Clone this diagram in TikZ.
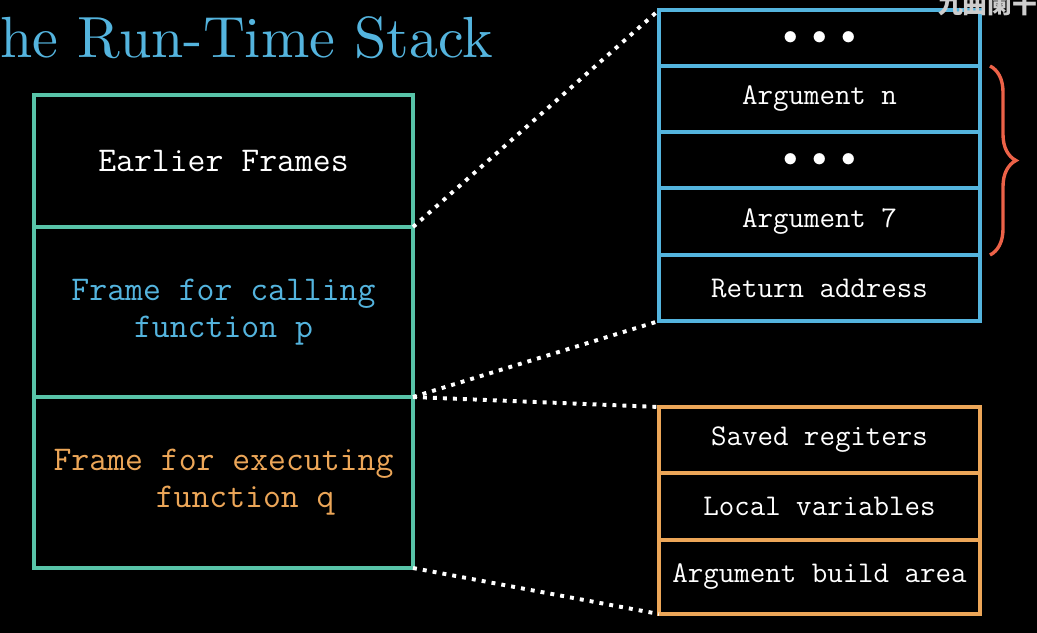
\documentclass[tikz,border=0pt]{standalone}
\usepackage{fontspec}
\newfontfamily\cjk{Noto Sans CJK SC}
\newfontfamily\titlefont{lmroman10-regular.otf}
\usetikzlibrary{positioning,decorations.pathreplacing}
\definecolor{rtTeal}  {RGB}{ 88,196,168}
\definecolor{rtBlue}  {RGB}{ 84,180,222}
\definecolor{rtOrange}{RGB}{236,166, 88}
\definecolor{rtRed}   {RGB}{236, 98, 72}
\definecolor{rtGrey}  {RGB}{205,205,205}

\begin{document}
\begin{tikzpicture}[
    every node/.style={inner sep=0pt,outer sep=0pt},
    cell/.style={rectangle,draw,line width=2.4pt,align=center},
    leftC/.style={cell,draw=rtTeal,minimum width=9.475cm,
                  font=\fontsize{24.7pt}{26.5pt}\selectfont\ttfamily},
    blueC/.style={cell,draw=rtBlue,text=white,minimum width=8.025cm,
                  font=\fontsize{21.4pt}{25pt}\selectfont\ttfamily},
    orangeC/.style={cell,draw=rtOrange,text=white,minimum width=8.025cm,
                  font=\fontsize{21.4pt}{25pt}\selectfont\ttfamily},
    dotsC/.style={blueC,font=\fontsize{20.74pt}{24pt}\selectfont},
    zoomline/.style={white,line width=2.8pt,dash pattern=on 2.8pt off 4.3pt}
  ]
  \useasboundingbox (0,0) rectangle (25.925,-15.825);
  \clip (0,0) rectangle (25.925,-15.825);
  \fill[black] (0,0) rectangle (25.925,-15.825);
  % Title
  \node[text=rtBlue,font=\titlefont\fontsize{41.3pt}{48pt}\selectfont,anchor=base east]
        (title) at (12.33,-1.45) {The Run-Time Stack};
  % Left stack
  \node[leftC,minimum height=3.3cm,anchor=north west,text=white]
        (earlier) at (0.85,-2.375) {Earlier Frames};
  \node[leftC,minimum height=4.25cm,below=0pt of earlier,text=rtBlue]
        (callp) {Frame for calling\\function p};
  \node[leftC,minimum height=4.275cm,below=0pt of callp,text=rtOrange]
        (execq) {Frame for executing\\\hspace*{1.25em}function q};
  % Right top: caller frame detail
  \node[dotsC,minimum height=1.4cm,anchor=north west]
        (topdots) at (16.475,-0.25) {$\bullet\mkern5mu\bullet\mkern5mu\bullet$};
  \node[blueC,minimum height=1.65cm,below=0pt of topdots] (argn) {Argument n};
  \node[dotsC,minimum height=1.4cm,below=0pt of argn]
        (middots) {$\bullet\mkern5mu\bullet\mkern5mu\bullet$};
  \node[blueC,minimum height=1.675cm,below=0pt of middots] (arg7) {Argument 7};
  \node[blueC,minimum height=1.65cm,below=0pt of arg7] (retaddr) {Return address};
  % Right bottom: executing frame detail
  \node[orangeC,minimum height=1.65cm,anchor=north west]
        (saved) at (16.475,-10.175) {Saved regiters};
  \node[orangeC,minimum height=1.675cm,below=0pt of saved] (locals) {Local variables};
  \node[orangeC,minimum height=1.85cm,below=0pt of locals] (argbuild) {Argument build area};
  % Brace
  \draw[rtRed,line width=2.4pt,decorate,decoration={brace,amplitude=0.65cm}]
        ([xshift=0.25cm]argn.north east) -- ([xshift=0.25cm]arg7.south east);
  % Zoom lines
  \draw[zoomline] (earlier.south east) -- (topdots.north west);
  \draw[zoomline] (callp.south east) -- (retaddr.south west);
  \draw[zoomline] (callp.south east) -- (saved.north west);
  \draw[zoomline] (execq.south east) -- (argbuild.south west);
  % Watermark
  \node[text=rtGrey,font=\cjk\bfseries\fontsize{17.7pt}{20pt}\selectfont,anchor=base west]
        (mark) at (23.45,-0.35) {九曲阑干};
\end{tikzpicture}
\end{document}
